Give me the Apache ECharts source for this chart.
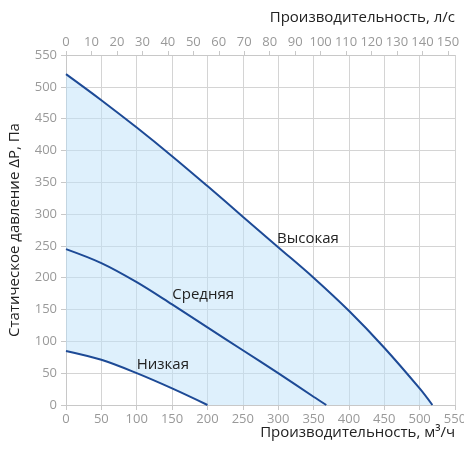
<!DOCTYPE html>
<html><head><meta charset="utf-8">
<script src="https://cdn.jsdelivr.net/npm/echarts@6/dist/echarts.min.js"></script>
<style>html,body{margin:0;padding:0;background:#fff}#c{width:464px;height:450px}</style>
</head><body><div id="c"></div>
<script>
var highX = [0, 50, 100, 150, 200, 250, 300, 350, 400, 450, 500, 518];
var highY = [520, 479, 436, 391, 344, 296, 248, 200, 148, 90, 26, 0];
var midX = [0, 50, 100, 150, 200, 250, 300, 350, 368];
var midY = [245, 223, 193, 158, 122, 86, 50, 13, 0];
var lowX = [0, 50, 100, 150, 200];
var lowY = [85, 71, 50, 26, 0];
var seriesNames = ['Высокая', 'Средняя', 'Низкая'];
var labelPos = [[342, 262], [194, 173], [137, 63]];
var yTitle = 'Статическое давление ΔP, Па';
var xTitle = 'Производительность, м³/ч';
var x2Title = 'Производительность, л/с';

function pairs(xs, ys){ return xs.map(function(x,i){return [x, ys[i]];}); }

var font = '"Open Sans", "Noto Sans", sans-serif';
var lineColor = '#1d4a96';
var chart = echarts.init(document.getElementById('c'));

function lineSeries(name, xs, ys, lp){
  return {
    type:'line', name:name, data:pairs(xs, ys), xAxisIndex:0, yAxisIndex:0,
    smooth:0.35, symbol:'none', lineStyle:{color:lineColor, width:2}, z:5,
    markPoint:{symbol:'circle', symbolSize:0, data:[{coord:lp, value:name}],
      label:{show:true, position:'inside', formatter:name, color:'#222', fontSize:15, fontFamily:font}}
  };
}

chart.setOption({
  animation:false,
  grid:{left:66, right:9, top:55, bottom:45, containLabel:false, outerBoundsMode:'none'},
  xAxis:[{
    type:'value', min:0, max:550, interval:50, position:'bottom',
    name:xTitle, nameLocation:'end', nameGap:0, nameMoveOverlap:false,
    nameTextStyle:{color:'#222', fontSize:15, fontFamily:font, align:'right', verticalAlign:'top', padding:[20,0,0,0]},
    axisLine:{show:true, lineStyle:{color:'#c8c8c8'}},
    axisTick:{show:true, length:5, lineStyle:{color:'#c8c8c8'}},
    axisLabel:{color:'#999', fontSize:13, fontFamily:font, margin:8},
    splitLine:{show:true, lineStyle:{color:'#d4d4d4'}}
  },{
    type:'value', min:0, max:550/3.6, interval:10, position:'top',
    name:x2Title, nameLocation:'end', nameGap:0, nameMoveOverlap:false,
    nameTextStyle:{color:'#222', fontSize:15, fontFamily:font, align:'right', verticalAlign:'bottom', padding:[0,0,30,0]},
    axisLine:{show:true, lineStyle:{color:'#c8c8c8'}},
    axisTick:{show:true, length:4, lineStyle:{color:'#c8c8c8'}},
    axisLabel:{color:'#999', fontSize:13, fontFamily:font, margin:6, showMaxLabel:false,
      formatter:function(v){ return Math.abs(v - Math.round(v)) < 1e-6 ? String(Math.round(v)) : ''; }},
    splitLine:{show:false}
  }],
  yAxis:{
    type:'value', min:0, max:550, interval:50,
    name:yTitle, nameLocation:'middle', nameGap:44, nameRotate:90, nameMoveOverlap:false,
    nameTextStyle:{color:'#222', fontSize:15, fontFamily:font},
    axisLine:{show:true, lineStyle:{color:'#c8c8c8'}},
    axisTick:{show:true, length:5, lineStyle:{color:'#c8c8c8'}},
    axisLabel:{color:'#999', fontSize:13, fontFamily:font, margin:9},
    splitLine:{show:true, lineStyle:{color:'#d4d4d4'}}
  },
  series:[
    {
      type:'custom', xAxisIndex:0, yAxisIndex:0, data:[[0,0]], z:1, silent:true,
      renderItem:function(params, api){
        var pts = [];
        highX.forEach(function(x,i){ pts.push(api.coord([x, highY[i]])); });
        for (var i = lowX.length-1; i >= 0; i--) pts.push(api.coord([lowX[i], lowY[i]]));
        return {type:'polygon', shape:{points:pts},
          style:{fill:'rgba(190,225,250,0.5)', stroke:null}};
      }
    },
    lineSeries(seriesNames[0], highX, highY, labelPos[0]),
    lineSeries(seriesNames[1], midX, midY, labelPos[1]),
    lineSeries(seriesNames[2], lowX, lowY, labelPos[2])
  ]
});
</script></body></html>
